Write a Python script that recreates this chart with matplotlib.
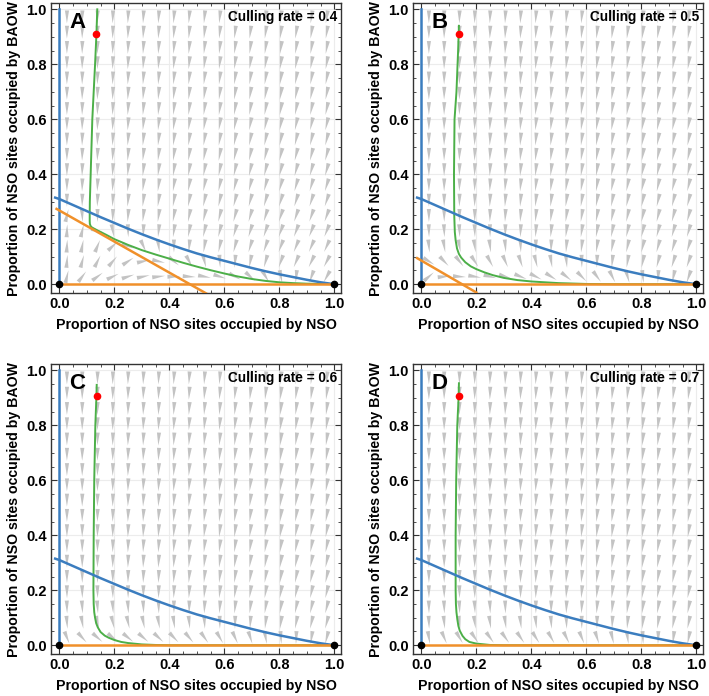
import numpy as np
import matplotlib
matplotlib.use("Agg")
import matplotlib.pyplot as plt
from matplotlib.collections import PolyCollection
from matplotlib.ticker import MultipleLocator, FormatStrFormatter

plt.rcParams["font.family"] = ["Liberation Sans", "DejaVu Sans"]
plt.rcParams["font.weight"] = "bold"

# panel letters and culling rates
panels = ["A", "B", "C", "D"]
culling = [0.4, 0.5, 0.6, 0.7]

# blue nullcline of NSO (same in every panel)
blue_x = [-0.015, 0.0, 0.05, 0.1, 0.15, 0.2, 0.25, 0.3, 0.35, 0.4, 0.45, 0.5,
          0.55, 0.6, 0.65, 0.7, 0.75, 0.8, 0.85, 0.9, 0.95, 1.0]
blue_y = [0.315, 0.31, 0.288, 0.266, 0.244, 0.223, 0.202, 0.182, 0.163, 0.145, 0.128, 0.112,
          0.098, 0.085, 0.072, 0.059, 0.047, 0.036, 0.026, 0.016, 0.007, 0.0]

# orange nullcline of BAOW: end points of the straight segment (None = off the plot)
orange_x = [[-0.01, 0.533], [-0.015, 0.2], None, None]
orange_y = [[0.274, -0.033], [0.095, -0.03], None, None]
# intercept of that line, used for the arrow field
orange_b = [0.27, 0.09, -0.09, -0.27]
orange_slope = 0.56

# green trajectories
traj_x = [
    [0.138, 0.135, 0.13, 0.12, 0.114, 0.111, 0.1105, 0.1105, 0.111, 0.1135, 0.118, 0.125, 0.14,
     0.17, 0.2, 0.25, 0.3, 0.35, 0.4, 0.45, 0.5, 0.55, 0.6, 0.65, 0.7, 0.75, 0.8, 0.85, 0.9, 1.0],
    [0.137, 0.134, 0.128, 0.121, 0.119, 0.12, 0.122, 0.125, 0.13, 0.137, 0.145, 0.16, 0.18, 0.2,
     0.23, 0.26, 0.3, 0.35, 0.4, 0.5, 0.6, 0.7, 1.0],
    [0.136, 0.135, 0.131, 0.127, 0.125, 0.124, 0.125, 0.127, 0.13, 0.134, 0.14, 0.15, 0.165,
     0.18, 0.2, 0.225, 0.25, 0.3, 0.35, 0.4, 1.0],
    [0.137, 0.136, 0.131, 0.127, 0.125, 0.125, 0.126, 0.128, 0.131, 0.135, 0.14, 0.15, 0.16,
     0.175, 0.2, 0.25, 0.3, 1.0],
]
traj_y = [
    [1.0, 0.91, 0.8, 0.6, 0.4, 0.3, 0.25, 0.23, 0.22, 0.212, 0.207, 0.203, 0.195,
     0.18, 0.164, 0.143, 0.124, 0.108, 0.093, 0.078, 0.064, 0.051, 0.039, 0.028, 0.019, 0.012,
     0.007, 0.004, 0.002, 0.0],
    [0.94, 0.85, 0.7, 0.6, 0.4, 0.25, 0.19, 0.16, 0.13, 0.11, 0.097, 0.08, 0.065, 0.055,
     0.043, 0.033, 0.023, 0.015, 0.01, 0.004, 0.001, 0.0, 0.0],
    [0.947, 0.907, 0.8, 0.6, 0.4, 0.2, 0.15, 0.12, 0.1, 0.08, 0.065, 0.048, 0.035,
     0.027, 0.019, 0.012, 0.008, 0.003, 0.001, 0.0, 0.0],
    [0.953, 0.907, 0.8, 0.6, 0.4, 0.2, 0.15, 0.12, 0.095, 0.07, 0.053, 0.034, 0.022,
     0.012, 0.006, 0.001, 0.0, 0.0],
]

# starting point (red) and equilibria (black)
start_x = [0.135, 0.137, 0.136, 0.137]
start_y = [0.909, 0.909, 0.907, 0.907]
equil_x = [0.0, 1.0]
equil_y = [0.0, 0.0]

BLUE = "#3b7dbf"
ORANGE = "#f0902a"
GREEN = "#4caf48"
ARROW = "#c3c3c3"


def arrow_field(ax, b):
    n = 18
    g = (np.arange(n) + 0.5) / n
    X, Y = np.meshgrid(g, g)
    bx = np.interp(X, blue_x[1:], blue_y[1:])
    U = X * (bx - Y)
    V = 5.0 * Y * (b - orange_slope * X - Y)
    L = np.hypot(U, V)
    L[L == 0] = 1
    U, V = U / L, V / L
    length, width = 0.047, 0.015
    polys = []
    for x, y, u, v in zip(X.ravel(), Y.ravel(), U.ravel(), V.ravel()):
        tip = (x + u * length / 2, y + v * length / 2)
        bcx, bcy = x - u * length / 2, y - v * length / 2
        px, py = -v * width / 2, u * width / 2
        polys.append([tip, (bcx + px, bcy + py), (bcx - px, bcy - py)])
    ax.add_collection(PolyCollection(polys, facecolors=ARROW, edgecolors="none", zorder=1))


fig = plt.figure(figsize=(7.09, 6.96), dpi=100)
lefts = [0.072, 0.5825, 0.072, 0.5825]
bottoms = [0.579, 0.579, 0.0603, 0.0603]

for i, name in enumerate(panels):
    ax = fig.add_axes([lefts[i], bottoms[i], 0.409, 0.4167])
    ax.set_xlim(-0.03, 1.024)
    ax.set_ylim(-0.032, 1.023)

    for v in np.arange(0.2, 1.01, 0.2):
        ax.axvline(v, color="#ececec", lw=0.8, zorder=0)
        ax.axhline(v, color="#ececec", lw=0.8, zorder=0)

    arrow_field(ax, orange_b[i])

    ax.plot(traj_x[i], traj_y[i], color=GREEN, lw=1.4, zorder=2)
    ax.plot([0, 0], [0, 1.0], color=BLUE, lw=1.8, zorder=3)
    ax.plot(blue_x, blue_y, color=BLUE, lw=1.8, zorder=3)
    ax.plot([0, 1.0], [0, 0], color=ORANGE, lw=1.8, zorder=3)
    if orange_x[i] is not None:
        ax.plot(orange_x[i], orange_y[i], color=ORANGE, lw=1.8, zorder=3)

    ax.plot(start_x[i], start_y[i], "o", color="red", ms=4.5, zorder=5)
    ax.plot(equil_x, equil_y, "o", color="black", ms=4.5, zorder=5)

    ax.text(0.065, 0.953, name, fontsize=16, fontweight="bold", ha="center", va="center")
    ax.text(1.011, 0.973, f"Culling rate = {culling[i]}", fontsize=9.8,
            fontweight="bold", ha="right", va="center")

    ax.xaxis.set_major_locator(MultipleLocator(0.2))
    ax.yaxis.set_major_locator(MultipleLocator(0.2))
    ax.xaxis.set_minor_locator(MultipleLocator(0.05))
    ax.yaxis.set_minor_locator(MultipleLocator(0.05))
    ax.xaxis.set_major_formatter(FormatStrFormatter("%.1f"))
    ax.yaxis.set_major_formatter(FormatStrFormatter("%.1f"))
    ax.tick_params(which="both", direction="in", top=True, right=True, color="#333333")
    ax.tick_params(which="major", length=4, width=0.8, labelsize=10.5, pad=3)
    ax.tick_params(which="minor", length=2, width=0.6)
    for lab in ax.get_xticklabels() + ax.get_yticklabels():
        lab.set_fontweight("bold")
    for s in ax.spines.values():
        s.set_color("#333333")
        s.set_linewidth(1.0)

    ax.set_xlabel("Proportion of NSO sites occupied by NSO", fontsize=10.2,
                  fontweight="bold", labelpad=5)
    ax.set_ylabel("Proportion of NSO sites occupied by BAOW", fontsize=10.2,
                  fontweight="bold", labelpad=4)

fig.savefig("out.png", dpi=100)
